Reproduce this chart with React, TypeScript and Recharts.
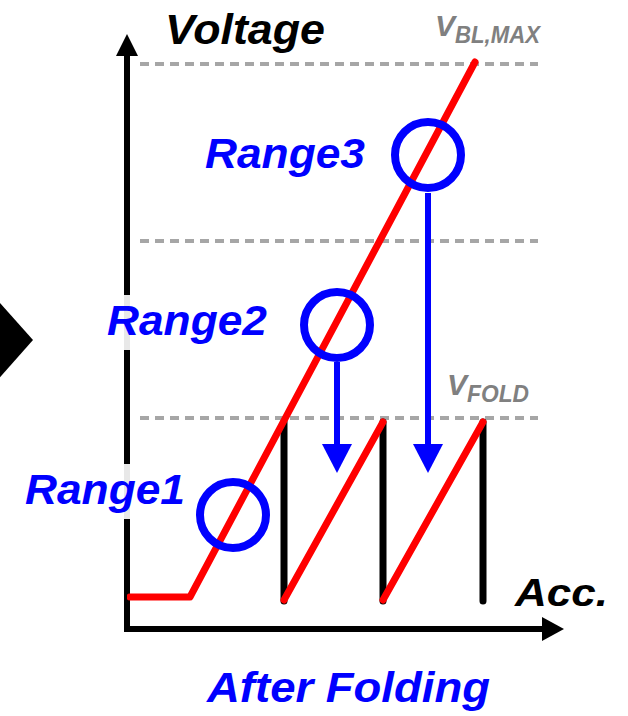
import React from "react";
import { ComposedChart, XAxis, YAxis, Line, ReferenceLine, ReferenceDot } from "recharts";

// Units: accumulation (x) and voltage (y), arbitrary units
const redRamp = [
  { acc: 0.3, v: 3.5 },
  { acc: 6.3, v: 3.5 },
  { acc: 34.8, v: 57.0 },
];
const foldedA = [
  { acc: 15.7, v: 3.2 },
  { acc: 25.6, v: 21.0 },
];
const foldedB = [
  { acc: 25.6, v: 3.2 },
  { acc: 35.6, v: 21.0 },
];
const resetAcc = [15.7, 25.6, 35.6];
const resetLow = 3.1;
const resetHigh = 21.0;
const levels = [21.4, 39.1, 56.8]; // V_FOLD, middle, V_BL,MAX
const ranges = [
  { name: "Range1", acc: 10.6, v: 11.7, labelAcc: -10.2, labelV: 12.8, boxed: true },
  { name: "Range2", acc: 21.0, v: 30.7, labelAcc: -2.0, labelV: 29.7, boxed: true },
  { name: "Range3", acc: 30.1, v: 47.7, labelAcc: 7.8, labelV: 46.4, boxed: false },
];
const arrows = [
  { acc: 21.0, from: 27.0, to: 15.9 },
  { acc: 30.1, from: 43.9, to: 15.9 },
];
const AXIS_LEVEL = 0.3;
const AXIS_X_END = 42.0;
const AXIS_Y_END = 57.6;

const FONT = "'Liberation Sans', Arial, sans-serif";
const RED = "#ff0000";
const BLUE = "#0000ff";
const GRAY_TXT = "#808080";

const txt = (content: string, size: number, len: number, color: string) => (p: any) => (
  <text
    x={p.cx}
    y={p.cy}
    fontFamily={FONT}
    fontWeight="bold"
    fontStyle="italic"
    fontSize={size}
    fill={color}
    textLength={len}
    lengthAdjust="spacingAndGlyphs"
  >
    {content}
  </text>
);

const subLabel = (main: string, sub: string, subLen: number) => (p: any) => (
  <g>
    <text x={p.cx} y={p.cy} fontFamily={FONT} fontWeight="bold" fontStyle="italic" fontSize={30} fill={GRAY_TXT}>
      {main}
    </text>
    <text
      x={p.cx + 20}
      y={p.cy + 7}
      fontFamily={FONT}
      fontWeight="bold"
      fontStyle="italic"
      fontSize={23}
      fill={GRAY_TXT}
      textLength={subLen}
      lengthAdjust="spacingAndGlyphs"
    >
      {sub}
    </text>
  </g>
);

const rangeLabel = (name: string, boxed: boolean) => (p: any) => (
  <g>
    {boxed && <rect x={p.cx - 6} y={p.cy - 40} width={172} height={55} fill="#ffffff" fillOpacity={0.91} />}
    <text
      x={p.cx}
      y={p.cy}
      fontFamily={FONT}
      fontWeight="bold"
      fontStyle="italic"
      fontSize={42}
      fill={BLUE}
      textLength={160}
      lengthAdjust="spacingAndGlyphs"
    >
      {name}
    </text>
  </g>
);

const upHead = (p: any) => (
  <polygon points={`${p.cx},${p.cy} ${p.cx - 11},${p.cy + 22} ${p.cx + 11},${p.cy + 22}`} fill="#000" />
);
const rightHead = (p: any) => (
  <polygon points={`${p.cx},${p.cy} ${p.cx - 22},${p.cy - 12} ${p.cx - 22},${p.cy + 12}`} fill="#000" />
);
const downHead = (p: any) => (
  <polygon points={`${p.cx},${p.cy} ${p.cx - 15},${p.cy - 29} ${p.cx + 15},${p.cy - 29}`} fill={BLUE} />
);
const chevron = (p: any) => (
  <polygon points={`${p.cx - 40},${p.cy - 45} ${p.cx},${p.cy} ${p.cx - 40},${p.cy + 45}`} fill="#000" />
);
const ring = (p: any) => <circle cx={p.cx} cy={p.cy} r={33} fill="none" stroke={BLUE} strokeWidth={8} />;

const lineProps = {
  dataKey: "v",
  dot: false,
  activeDot: false,
  isAnimationActive: false,
  strokeLinecap: "round" as const,
  strokeLinejoin: "round" as const,
};

export default function App() {
  return (
    <div style={{ position: "absolute", left: 0, top: 0, width: 628, height: 716, background: "#fff" }}>
      <ComposedChart width={628} height={716} margin={{ top: 35, right: 68, bottom: 84, left: 127 }}>
        <XAxis hide type="number" dataKey="acc" domain={[0, 43.3]} allowDataOverflow />
        <YAxis hide type="number" domain={[0, 59.7]} allowDataOverflow />

        {levels.map((lv, i) => (
          <ReferenceLine
            key={"lv" + i}
            segment={[{ x: 1.3, y: lv }, { x: 41.1, y: lv }]}
            stroke="#a6a6a6"
            strokeWidth={4}
            strokeDasharray="9 6"
            ifOverflow="visible"
          />
        ))}

        <ReferenceLine
          segment={[{ x: 0, y: 0 }, { x: 0, y: AXIS_Y_END }]}
          stroke="#000"
          strokeWidth={6}
          ifOverflow="visible"
        />
        <ReferenceLine
          segment={[{ x: -0.3, y: AXIS_LEVEL }, { x: AXIS_X_END, y: AXIS_LEVEL }]}
          stroke="#000"
          strokeWidth={6}
          ifOverflow="visible"
        />

        {resetAcc.map((a, i) => (
          <Line
            key={"rs" + i}
            {...lineProps}
            data={[{ acc: a, v: resetLow }, { acc: a, v: resetHigh }]}
            stroke="#000"
            strokeWidth={7}
          />
        ))}
        <Line {...lineProps} data={redRamp} stroke={RED} strokeWidth={7} />
        <Line {...lineProps} data={foldedA} stroke={RED} strokeWidth={7} />
        <Line {...lineProps} data={foldedB} stroke={RED} strokeWidth={7} />

        {arrows.map((a, i) => (
          <Line
            key={"ar" + i}
            {...lineProps}
            strokeLinecap="butt"
            data={[{ acc: a.acc, v: a.from }, { acc: a.acc, v: a.to + 2.8 }]}
            stroke={BLUE}
            strokeWidth={6}
          />
        ))}
        {arrows.map((a, i) => (
          <ReferenceDot key={"ah" + i} x={a.acc} y={a.to} r={1} ifOverflow="visible" shape={downHead} />
        ))}

        {ranges.map((r) => (
          <ReferenceDot key={"c" + r.name} x={r.acc} y={r.v} r={33} ifOverflow="visible" shape={ring} />
        ))}
        {ranges.map((r) => (
          <ReferenceDot
            key={"l" + r.name}
            x={r.labelAcc}
            y={r.labelV}
            r={1}
            ifOverflow="visible"
            shape={rangeLabel(r.name, r.boxed)}
          />
        ))}

        <ReferenceDot x={0} y={59.8} r={1} ifOverflow="visible" shape={upHead} />
        <ReferenceDot x={43.7} y={AXIS_LEVEL} r={1} ifOverflow="visible" shape={rightHead} />
        <ReferenceDot x={-9.4} y={29.2} r={1} ifOverflow="visible" shape={chevron} />

        <ReferenceDot x={3.8} y={58.8} r={1} ifOverflow="visible" shape={txt("Voltage", 42, 160, "#000")} />
        <ReferenceDot x={30.8} y={59.6} r={1} ifOverflow="visible" shape={subLabel("V", "BL,MAX", 85)} />
        <ReferenceDot x={32.0} y={23.7} r={1} ifOverflow="visible" shape={subLabel("V", "FOLD", 62)} />
        <ReferenceDot x={38.8} y={2.6} r={1} ifOverflow="visible" shape={txt("Acc.", 38, 93, "#000")} />
        <ReferenceDot x={8.0} y={-7.0} r={1} ifOverflow="visible" shape={txt("After Folding", 42, 283, BLUE)} />
      </ComposedChart>
    </div>
  );
}
